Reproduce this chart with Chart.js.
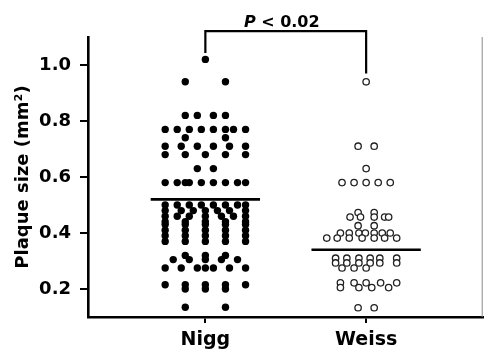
<!DOCTYPE html>
<html lang="en">
  <head>
    <meta charset="UTF-8" />
    <script src="https://cdn.jsdelivr.net/npm/chart.js"></script>
    <title>Plaque size</title>
    <style>
      * {
        padding: 0;
        margin: 0;
        box-sizing: border-box;
      }
      body {
        background: #fff;
      }
      .chart-box {
        width: 488px;
        height: 353px;
      }
    </style>
  </head>
  <body>
    <div class="chart-box">
      <canvas id="plaqueChart"></canvas>
    </div>
    <script>
      // groups on the x axis
      const groups = ['Nigg', 'Weiss'];
      const groupX = [1, 2];
      const yTicks = [0.2, 0.4, 0.6, 0.8, 1.0];
      const means = [0.52, 0.34];
      const pLabel = ['P', ' < 0.02'];

      // Nigg: plaque size and horizontal jitter of each dot
      const niggY = [
        1.02,
        0.94, 0.94,
        0.82, 0.82, 0.82, 0.82,
        0.77, 0.77, 0.77, 0.77, 0.77, 0.77, 0.77, 0.77,
        0.74, 0.74,
        0.71, 0.71, 0.71, 0.71, 0.71, 0.71,
        0.68, 0.68, 0.68, 0.68, 0.68,
        0.63, 0.63,
        0.58, 0.58, 0.58, 0.58, 0.58, 0.58, 0.58, 0.58, 0.58,
        0.5, 0.5, 0.5, 0.5, 0.5, 0.5, 0.5, 0.5,
        0.48, 0.48, 0.48, 0.48, 0.48, 0.48, 0.48,
        0.46, 0.46, 0.46, 0.46, 0.46, 0.46, 0.46,
        0.44, 0.44, 0.44, 0.44, 0.44,
        0.43, 0.43, 0.43, 0.43, 0.43,
        0.41, 0.41, 0.41, 0.41, 0.41,
        0.39, 0.39, 0.39, 0.39, 0.39,
        0.37, 0.37, 0.37, 0.37, 0.37,
        0.32, 0.32, 0.32,
        0.305, 0.305, 0.305, 0.305, 0.305,
        0.275, 0.275, 0.275, 0.275, 0.275, 0.275, 0.275,
        0.215, 0.215, 0.215, 0.215, 0.215,
        0.2, 0.2, 0.2,
        0.135, 0.135,
      ];
      const niggJitter = [
        0,
        -0.125, 0.125,
        -0.125, -0.05, 0.05, 0.125,
        -0.25, -0.175, -0.1, -0.025, 0.05, 0.125, 0.175, 0.25,
        -0.125, 0.125,
        -0.25, -0.15, -0.05, 0.05, 0.15, 0.25,
        -0.25, -0.125, 0, 0.125, 0.25,
        -0.05, 0.05,
        -0.25, -0.175, -0.125, -0.1, -0.025, 0.05, 0.125, 0.2, 0.25,
        -0.25, -0.175, -0.1, -0.025, 0.05, 0.125, 0.2, 0.25,
        -0.25, -0.15, -0.075, 0, 0.075, 0.15, 0.25,
        -0.25, -0.175, -0.1, 0, 0.1, 0.175, 0.25,
        -0.25, -0.125, 0, 0.125, 0.25,
        -0.25, -0.125, 0, 0.125, 0.25,
        -0.25, -0.125, 0, 0.125, 0.25,
        -0.25, -0.125, 0, 0.125, 0.25,
        -0.25, -0.125, 0, 0.125, 0.25,
        -0.125, 0, 0.125,
        -0.2, -0.1, 0, 0.1, 0.2,
        -0.25, -0.15, -0.05, 0, 0.05, 0.15, 0.25,
        -0.25, -0.125, 0, 0.125, 0.25,
        -0.125, 0, 0.125,
        -0.125, 0.125,
      ];

      // Weiss: plaque size and horizontal jitter of each circle
      const weissY = [
        0.94,
        0.71, 0.71,
        0.63,
        0.58, 0.58, 0.58, 0.58, 0.58,
        0.473, 0.473,
        0.457, 0.457, 0.457, 0.457, 0.457,
        0.426, 0.426,
        0.4, 0.4, 0.4, 0.4, 0.4, 0.4, 0.4,
        0.382, 0.382, 0.382, 0.382, 0.382, 0.382, 0.382,
        0.31, 0.31, 0.31, 0.31, 0.31, 0.31,
        0.293, 0.293, 0.293, 0.293, 0.293, 0.293,
        0.275, 0.275, 0.275,
        0.222, 0.222, 0.222, 0.222, 0.222,
        0.205, 0.205, 0.205, 0.205,
        0.133, 0.133,
      ];
      const weissJitter = [
        0,
        -0.05, 0.05,
        0,
        -0.15, -0.075, 0, 0.075, 0.15,
        -0.05, 0.05,
        -0.1, -0.035, 0.05, 0.115, 0.14,
        -0.05, 0.05,
        -0.16, -0.105, -0.045, -0.005, 0.05, 0.1, 0.15,
        -0.245, -0.18, -0.105, -0.025, 0.05, 0.115, 0.19,
        -0.19, -0.12, -0.045, 0.025, 0.085, 0.19,
        -0.19, -0.12, -0.045, 0.025, 0.085, 0.19,
        -0.15, -0.075, 0,
        -0.16, -0.075, 0, 0.09, 0.19,
        -0.16, -0.045, 0.035, 0.14,
        -0.05, 0.05,
      ];

      const meanHalf = 0.34;
      const bracketTop = 1.121;
      const bracketEnds = [1.043, 0.97];

      const toPoints = (ys, jit, gx) => ys.map((v, i) => ({ x: gx + jit[i], y: v }));
      const meanLine = (i) => [
        { x: groupX[i] - meanHalf, y: means[i] },
        { x: groupX[i] + meanHalf, y: means[i] },
      ];

      const font = '"DejaVu Sans", sans-serif';

      const bracketPlugin = {
        id: 'bracket',
        afterDraw(chart) {
          const { ctx, chartArea, scales } = chart;
          const x = scales.x;
          const y = scales.y;
          ctx.save();
          // thin right edge of the frame
          ctx.strokeStyle = '#8a8a8a';
          ctx.lineWidth = 1;
          ctx.beginPath();
          ctx.moveTo(chartArea.right - 0.5, chartArea.top);
          ctx.lineTo(chartArea.right - 0.5, chartArea.bottom);
          ctx.stroke();

          const x1 = x.getPixelForValue(groupX[0]);
          const x2 = x.getPixelForValue(groupX[1]);
          const yt = y.getPixelForValue(bracketTop);
          ctx.strokeStyle = '#000';
          ctx.lineWidth = 2.2;
          ctx.beginPath();
          ctx.moveTo(x1, y.getPixelForValue(bracketEnds[0]));
          ctx.lineTo(x1, yt);
          ctx.lineTo(x2, yt);
          ctx.lineTo(x2, y.getPixelForValue(bracketEnds[1]));
          ctx.stroke();

          ctx.fillStyle = '#000';
          ctx.textBaseline = 'alphabetic';
          ctx.font = 'italic bold 16px ' + font;
          const wP = ctx.measureText(pLabel[0]).width;
          ctx.font = 'bold 16px ' + font;
          const wR = ctx.measureText(pLabel[1]).width;
          const sx = (x1 + x2) / 2 - (wP + wR) / 2 - 4;
          ctx.font = 'italic bold 16px ' + font;
          ctx.fillText(pLabel[0], sx, yt - 4);
          ctx.font = 'bold 16px ' + font;
          ctx.fillText(pLabel[1], sx + wP, yt - 4);
          ctx.restore();
        },
      };

      new Chart(document.getElementById('plaqueChart'), {
        type: 'scatter',
        data: {
          datasets: [
            {
              label: 'Nigg mean',
              data: meanLine(0),
              showLine: true,
              borderColor: '#000',
              borderWidth: 2.6,
              pointRadius: 0,
            },
            {
              label: 'Weiss mean',
              data: meanLine(1),
              showLine: true,
              borderColor: '#000',
              borderWidth: 2.6,
              pointRadius: 0,
            },
            {
              label: groups[0],
              data: toPoints(niggY, niggJitter, groupX[0]),
              pointRadius: 3.7,
              backgroundColor: '#000',
              borderWidth: 0,
            },
            {
              label: groups[1],
              data: toPoints(weissY, weissJitter, groupX[1]),
              pointRadius: 3.2,
              backgroundColor: '#fff',
              borderColor: '#222',
              borderWidth: 1.3,
            },
          ],
        },
        options: {
          responsive: true,
          maintainAspectRatio: false,
          animation: false,
          layout: { padding: { top: 37, right: 1, left: 0, bottom: 0 } },
          plugins: {
            legend: { display: false },
            tooltip: { enabled: false },
          },
          scales: {
            x: {
              type: 'linear',
              min: 0.27,
              max: 2.725,
              afterBuildTicks: (scale) => {
                scale.ticks = groupX.map((v) => ({ value: v }));
              },
              afterFit: (scale) => {
                scale.height = 36;
              },
              ticks: {
                callback: (v) => groups[groupX.indexOf(v)],
                color: '#000',
                font: { family: font, size: 19, weight: 'bold' },
                padding: 6,
                maxRotation: 0,
              },
              grid: {
                drawOnChartArea: false,
                tickLength: 6,
                color: '#000',
                lineWidth: 2,
              },
              border: { color: '#000', width: 2.6 },
            },
            y: {
              min: 0.1,
              max: 1.1,
              afterBuildTicks: (scale) => {
                scale.ticks = yTicks.map((v) => ({ value: v }));
              },
              afterFit: (scale) => {
                scale.width = 88;
              },
              ticks: {
                callback: (v) => v.toFixed(1),
                color: '#000',
                font: { family: font, size: 18, weight: 'bold' },
                padding: 9,
              },
              grid: {
                drawOnChartArea: false,
                tickLength: 8,
                color: '#000',
                lineWidth: 2,
              },
              border: { color: '#000', width: 2.6 },
              title: {
                display: true,
                text: 'Plaque size (mm²)',
                color: '#000',
                font: { family: font, size: 18, weight: 'bold' },
                padding: { top: 13, bottom: 0 },
              },
            },
          },
        },
        plugins: [bracketPlugin],
      });
    </script>
  </body>
</html>
